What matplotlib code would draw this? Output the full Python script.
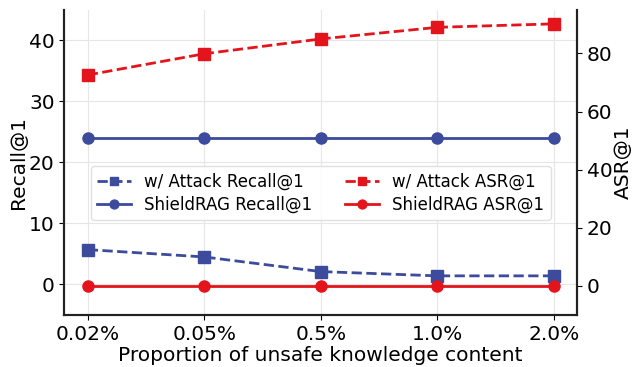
import matplotlib
matplotlib.use("Agg")
import matplotlib.pyplot as plt
import numpy as np

categories = ["0.02%", "0.05%", "0.5%", "1.0%", "2.0%"]
attack_recall = [5.7, 4.5, 2.1, 1.4, 1.4]
shield_recall = [24.0, 24.0, 24.0, 24.0, 24.0]
attack_asr = [72.6, 79.9, 85.0, 89.0, 90.2]
shield_asr = [0.0, 0.0, 0.0, 0.0, 0.0]

blue = "#3c4b9c"
red = "#e3141c"

fig = plt.figure(figsize=(6.32, 3.67), dpi=100)
ax = fig.add_axes([0.102, 0.142, 0.811, 0.831])
ax2 = ax.twinx()
x = np.arange(len(categories))

l1, = ax.plot(x, attack_recall, ls="--", marker="s", color=blue, lw=2, ms=8, label="w/ Attack Recall@1")
l2, = ax.plot(x, shield_recall, ls="-", marker="o", color=blue, lw=2, ms=8, label="ShieldRAG Recall@1")
l3, = ax2.plot(x, attack_asr, ls="--", marker="s", color=red, lw=2, ms=8, label="w/ Attack ASR@1")
l4, = ax2.plot(x, shield_asr, ls="-", marker="o", color=red, lw=2, ms=8, label="ShieldRAG ASR@1")

ax.set_xlim(-0.2, 4.2)
ax.set_ylim(-5, 45)
ax2.set_ylim(-10, 95)
ax.set_xticks(x)
ax.set_xticklabels(categories)
ax.set_yticks([0, 10, 20, 30, 40])
ax2.set_yticks([0, 20, 40, 60, 80])
ax.tick_params(labelsize=14.5)
ax2.tick_params(labelsize=14.5)
ax.set_xlabel("Proportion of unsafe knowledge content", fontsize=14.5, labelpad=2)
ax.set_ylabel("Recall@1", fontsize=14.5, labelpad=1)
ax2.set_ylabel("ASR@1", fontsize=14.5, labelpad=1)
ax.grid(True, color="#e6e6e6", lw=0.8)
ax.set_axisbelow(True)
for a in (ax, ax2):
    a.spines["top"].set_visible(False)
    for s in ("left", "right", "bottom"):
        a.spines[s].set_linewidth(1.5)
        a.spines[s].set_color("#222222")

ax2.legend([l1, l2, l3, l4], [h.get_label() for h in (l1, l2, l3, l4)],
           loc="center", bbox_to_anchor=(0.5, 0.4), ncol=2, fontsize=12,
           columnspacing=2.0, handlelength=2.0, handletextpad=0.8,
           labelspacing=0.3, borderpad=0.4, markerscale=0.8,
           framealpha=0.9, edgecolor="#dddddd")

fig.savefig("out.png", dpi=100)
